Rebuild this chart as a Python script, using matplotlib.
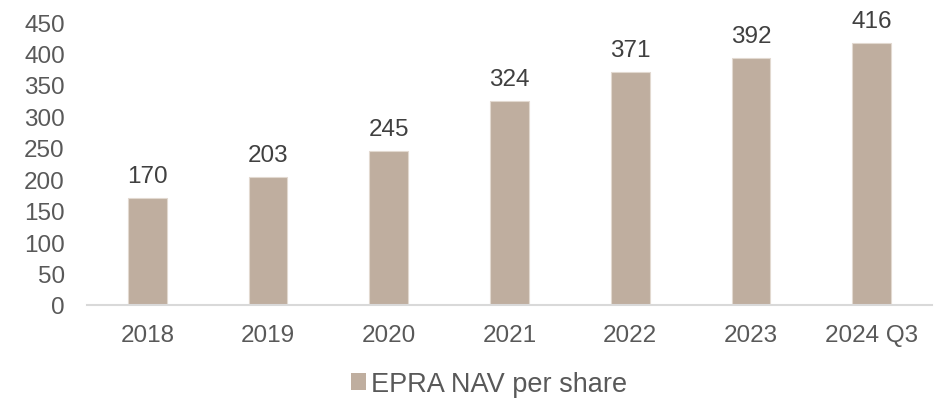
import matplotlib
matplotlib.use("Agg")
import matplotlib.pyplot as plt
from matplotlib.patches import Patch

categories = ["2018", "2019", "2020", "2021", "2022", "2023", "2024 Q3"]
nav_per_share = [170, 203, 245, 324, 371, 392, 416]
series_name = "EPRA NAV per share"
y_ticks = [0, 50, 100, 150, 200, 250, 300, 350, 400, 450]

plt.rcParams["font.family"] = ["Liberation Sans", "DejaVu Sans"]

bar_color = "#BFAE9F"
tick_color = "#595959"
label_color = "#404040"

W, H = 935, 402
fig = plt.figure(figsize=(W / 100, H / 100), dpi=100)
ax = fig.add_axes([87 / W, 1 - 306 / H, (932 - 87) / W, (306 - 23) / H])

x = range(len(categories))
bars = ax.bar(x, nav_per_share, width=0.32, color=bar_color,
              edgecolor="#E2D9D0", linewidth=0.8)

for xi, v in zip(x, nav_per_share):
    ax.annotate(f"{v}", (xi, v), xytext=(0, 8), textcoords="offset points",
                ha="center", va="bottom", fontsize=17.5, color=label_color)

ax.set_xlim(-0.5, len(categories) - 0.5)
ax.set_ylim(0, 450)
ax.set_yticks(y_ticks)
ax.set_xticks(list(x))
ax.set_xticklabels(categories)
ax.tick_params(axis="both", length=0, labelsize=17.5, colors=tick_color)
ax.tick_params(axis="x", pad=14)
ax.tick_params(axis="y", pad=16)
for s in ["top", "right", "left"]:
    ax.spines[s].set_visible(False)
ax.spines["bottom"].set_color("#D9D9D9")
ax.spines["bottom"].set_linewidth(1.5)

handle = Patch(facecolor=bar_color, edgecolor="none")
fig.legend([handle], [series_name], loc="center", bbox_to_anchor=(489 / W, 1 - 385 / H),
           frameon=False, fontsize=19.5, handlelength=0.55, handleheight=0.55,
           handletextpad=0.2, labelcolor=tick_color)

fig.savefig("out.png", dpi=100)
